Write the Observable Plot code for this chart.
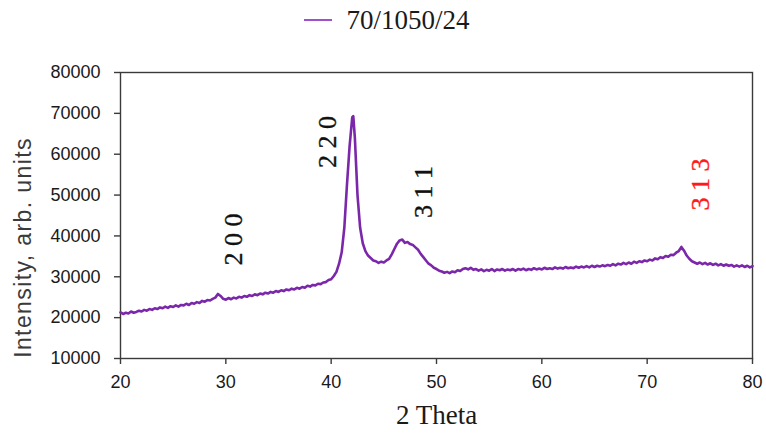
<!DOCTYPE html>
<html>
<head>
<meta charset="utf-8">
<script src="https://cdn.jsdelivr.net/npm/d3@7"></script>
<script src="https://cdn.jsdelivr.net/npm/@observablehq/plot@0.6"></script>
<style>
  html, body { margin: 0; padding: 0; background: #fff; }
  #wrap { width: 766px; height: 444px; position: relative; overflow: hidden; }
  #legend { height: 40px; display: flex; align-items: center; justify-content: center; padding-left: 8px;
            font-family: "Liberation Serif", serif; font-size: 27px; color: #1a1a1a; }
  #legend .sw { display: inline-block; width: 28px; height: 0; border-top: 2px solid #a050cc; margin-right: 14px; }
</style>
</head>
<body>
<div id="wrap">
  <div id="legend"></div>
  <div id="chart"></div>
</div>
<script>
const seriesName = "70/1050/24";
const lineColor = "#7b27aa";

const theta = [
  20.00, 20.25, 20.50, 20.75, 21.00, 21.25, 21.50, 21.75, 22.00, 22.25,
  22.50, 22.75, 23.00, 23.25, 23.50, 23.75, 24.00, 24.25, 24.50, 24.75,
  25.00, 25.25, 25.50, 25.75, 26.00, 26.25, 26.50, 26.75, 27.00, 27.25,
  27.50, 27.75, 28.00, 28.25, 28.50, 28.75, 29.00, 29.25, 29.50, 29.75,
  30.00, 30.25, 30.50, 30.75, 31.00, 31.25, 31.50, 31.75, 32.00, 32.25,
  32.50, 32.75, 33.00, 33.25, 33.50, 33.75, 34.00, 34.25, 34.50, 34.75,
  35.00, 35.25, 35.50, 35.75, 36.00, 36.25, 36.50, 36.75, 37.00, 37.25,
  37.50, 37.75, 38.00, 38.25, 38.50, 38.75, 39.00, 39.25, 39.50, 39.75,
  40.00, 40.25, 40.50, 40.75, 41.00, 41.25, 41.50, 41.75, 42.00, 42.10,
  42.25, 42.50, 42.75, 43.00, 43.25, 43.50, 43.75, 44.00, 44.25, 44.50,
  44.75, 45.00, 45.25, 45.50, 45.75, 46.00, 46.25, 46.50, 46.75, 47.00,
  47.25, 47.50, 47.75, 48.00, 48.25, 48.50, 48.75, 49.00, 49.25, 49.50,
  49.75, 50.00, 50.25, 50.50, 50.75, 51.00, 51.25, 51.50, 51.75, 52.00,
  52.25, 52.50, 52.75, 53.00, 53.25, 53.50, 53.75, 54.00, 54.25, 54.50,
  54.75, 55.00, 55.25, 55.50, 55.75, 56.00, 56.25, 56.50, 56.75, 57.00,
  57.25, 57.50, 57.75, 58.00, 58.25, 58.50, 58.75, 59.00, 59.25, 59.50,
  59.75, 60.00, 60.25, 60.50, 60.75, 61.00, 61.25, 61.50, 61.75, 62.00,
  62.25, 62.50, 62.75, 63.00, 63.25, 63.50, 63.75, 64.00, 64.25, 64.50,
  64.75, 65.00, 65.25, 65.50, 65.75, 66.00, 66.25, 66.50, 66.75, 67.00,
  67.25, 67.50, 67.75, 68.00, 68.25, 68.50, 68.75, 69.00, 69.25, 69.50,
  69.75, 70.00, 70.25, 70.50, 70.75, 71.00, 71.25, 71.50, 71.75, 72.00,
  72.25, 72.50, 72.75, 73.00, 73.25, 73.50, 73.75, 74.00, 74.25, 74.50,
  74.75, 75.00, 75.25, 75.50, 75.75, 76.00, 76.25, 76.50, 76.75, 77.00,
  77.25, 77.50, 77.75, 78.00, 78.25, 78.50, 78.75, 79.00, 79.25, 79.50,
  79.75, 80.00
];
const intensity = [
  21300, 20900, 21200, 21000, 21500, 21200, 21400, 21700, 21500, 21900,
  21700, 22100, 21900, 22300, 22100, 22500, 22300, 22700, 22400, 22800,
  22600, 23000, 22700, 23100, 23000, 23400, 23100, 23600, 23400, 23800,
  23600, 24100, 23900, 24300, 24200, 24600, 24900, 25800, 25300, 24600,
  24400, 24800, 24500, 24900, 24700, 25100, 24900, 25300, 25100, 25500,
  25300, 25700, 25500, 25900, 25700, 26100, 25900, 26300, 26100, 26500,
  26300, 26700, 26500, 26900, 26700, 27100, 26900, 27300, 27100, 27500,
  27300, 27800, 27600, 28000, 27900, 28300, 28200, 28600, 28700, 29200,
  29400, 30200, 31200, 33200, 36000, 42000, 52500, 62000, 69000, 69300,
  64000, 50000, 42000, 38200, 36300, 35200, 34600, 34000, 33800, 33400,
  33700, 33500, 34000, 34400, 35500, 36800, 38100, 38900, 39100, 38300,
  38500, 38000, 37800, 37200, 36600, 35600, 34800, 34000, 33200, 32800,
  32200, 31900, 31500, 31300, 31000, 31200, 30900, 31300, 31100, 31600,
  31400, 31900, 32100, 31800, 32200, 31700, 31900, 31500, 31800, 31400,
  31700, 31500, 31900, 31400, 31800, 31600, 31900, 31500, 31800, 31600,
  31900, 31500, 31900, 31700, 32000, 31600, 31900, 31700, 32100, 31800,
  32000, 31800, 32200, 31900, 32100, 31900, 32300, 32000, 32200, 32000,
  32400, 32100, 32300, 32100, 32500, 32200, 32500, 32300, 32600, 32300,
  32700, 32400, 32700, 32500, 32800, 32600, 32900, 32700, 33100, 32800,
  33200, 33000, 33400, 33100, 33500, 33200, 33700, 33400, 33800, 33600,
  34000, 33800, 34200, 34000, 34500, 34300, 34800, 34600, 35100, 34900,
  35400, 35300, 35900, 36300, 37300, 36400, 35200, 34400, 33800, 33500,
  33200, 33500, 33100, 33400, 33000, 33300, 32900, 33200, 32800, 33100,
  32700, 33000, 32700, 32900, 32500, 32800, 32500, 32800, 32400, 32700,
  32300, 32600
];

const xTicks = [20, 30, 40, 50, 60, 70, 80];
const yTicks = [10000, 20000, 30000, 40000, 50000, 60000, 70000, 80000];

const annLabels = ["2 0 0", "2 2 0", "3 1 1", "3 1 3"];
const annTheta = [30.74, 39.63, 48.75, 75.04];
const annIntensity = [39100, 63000, 50750, 52600];
const annColors = ["#111111", "#111111", "#111111", "#ff1a1a"];

const xTitle = "2 Theta";
const yTitle = "Intensity, arb. units";

const data = theta.map((t, i) => ({theta: t, intensity: intensity[i]}));
const ann = annLabels.map((l, i) => ({label: l, theta: annTheta[i], intensity: annIntensity[i], color: annColors[i]}));

const leg = document.getElementById("legend");
leg.innerHTML = `<span class="sw"></span><span>${seriesName}</span>`;

const annText = (rows, color) => Plot.text(rows, {
  x: "theta", y: "intensity", text: "label", rotate: -90,
  fontFamily: "Liberation Serif", fontSize: 26, fill: color, stroke: color, strokeWidth: 0.35
});

const chart = Plot.plot({
  width: 766,
  height: 404,
  marginTop: 32,
  marginBottom: 86,
  marginLeft: 120,
  marginRight: 14,
  style: {fontFamily: "Liberation Sans, sans-serif", fontSize: "18px", color: "#444", background: "#fff"},
  x: {domain: [20, 80]},
  y: {domain: [10000, 80000]},
  marks: [
    Plot.frame({stroke: "#3a3a3a", strokeWidth: 1.4}),
    Plot.axisY({ticks: yTicks, tickSize: 6, tickPadding: 14, tickFormat: d3.format("d"), label: null,
                fontSize: 18, fontFamily: "Liberation Sans", fill: "#1a1a1a", stroke: "#3a3a3a", strokeWidth: 1.4}),
    Plot.axisX({ticks: xTicks, tickSize: 6, tickPadding: 11, tickFormat: d3.format("d"), label: null,
                fontSize: 18, fontFamily: "Liberation Sans", fill: "#1a1a1a", stroke: "#3a3a3a", strokeWidth: 1.4}),
    Plot.line(data, {x: "theta", y: "intensity", stroke: lineColor, strokeWidth: 2.6, strokeLinejoin: "round"}),
    annText(ann.filter(d => d.color === "#111111"), "#111111"),
    annText(ann.filter(d => d.color === "#ff1a1a"), "#ff1a1a"),
    Plot.text([xTitle], {frameAnchor: "bottom", dy: 65, fontFamily: "Liberation Serif", fontSize: 27, fill: "#1a1a1a"}),
    Plot.text([yTitle], {frameAnchor: "left", textAnchor: "middle", rotate: -90, dx: -97, dy: 32,
                fontFamily: "Liberation Sans", fontSize: 23, fill: "#3a3a3a"})
  ]
});
d3.select(chart).selectAll("text").filter(function() { return this.textContent === yTitle; })
  .style("letter-spacing", "1.4px");
document.getElementById("chart").appendChild(chart);
</script>
</body>
</html>
